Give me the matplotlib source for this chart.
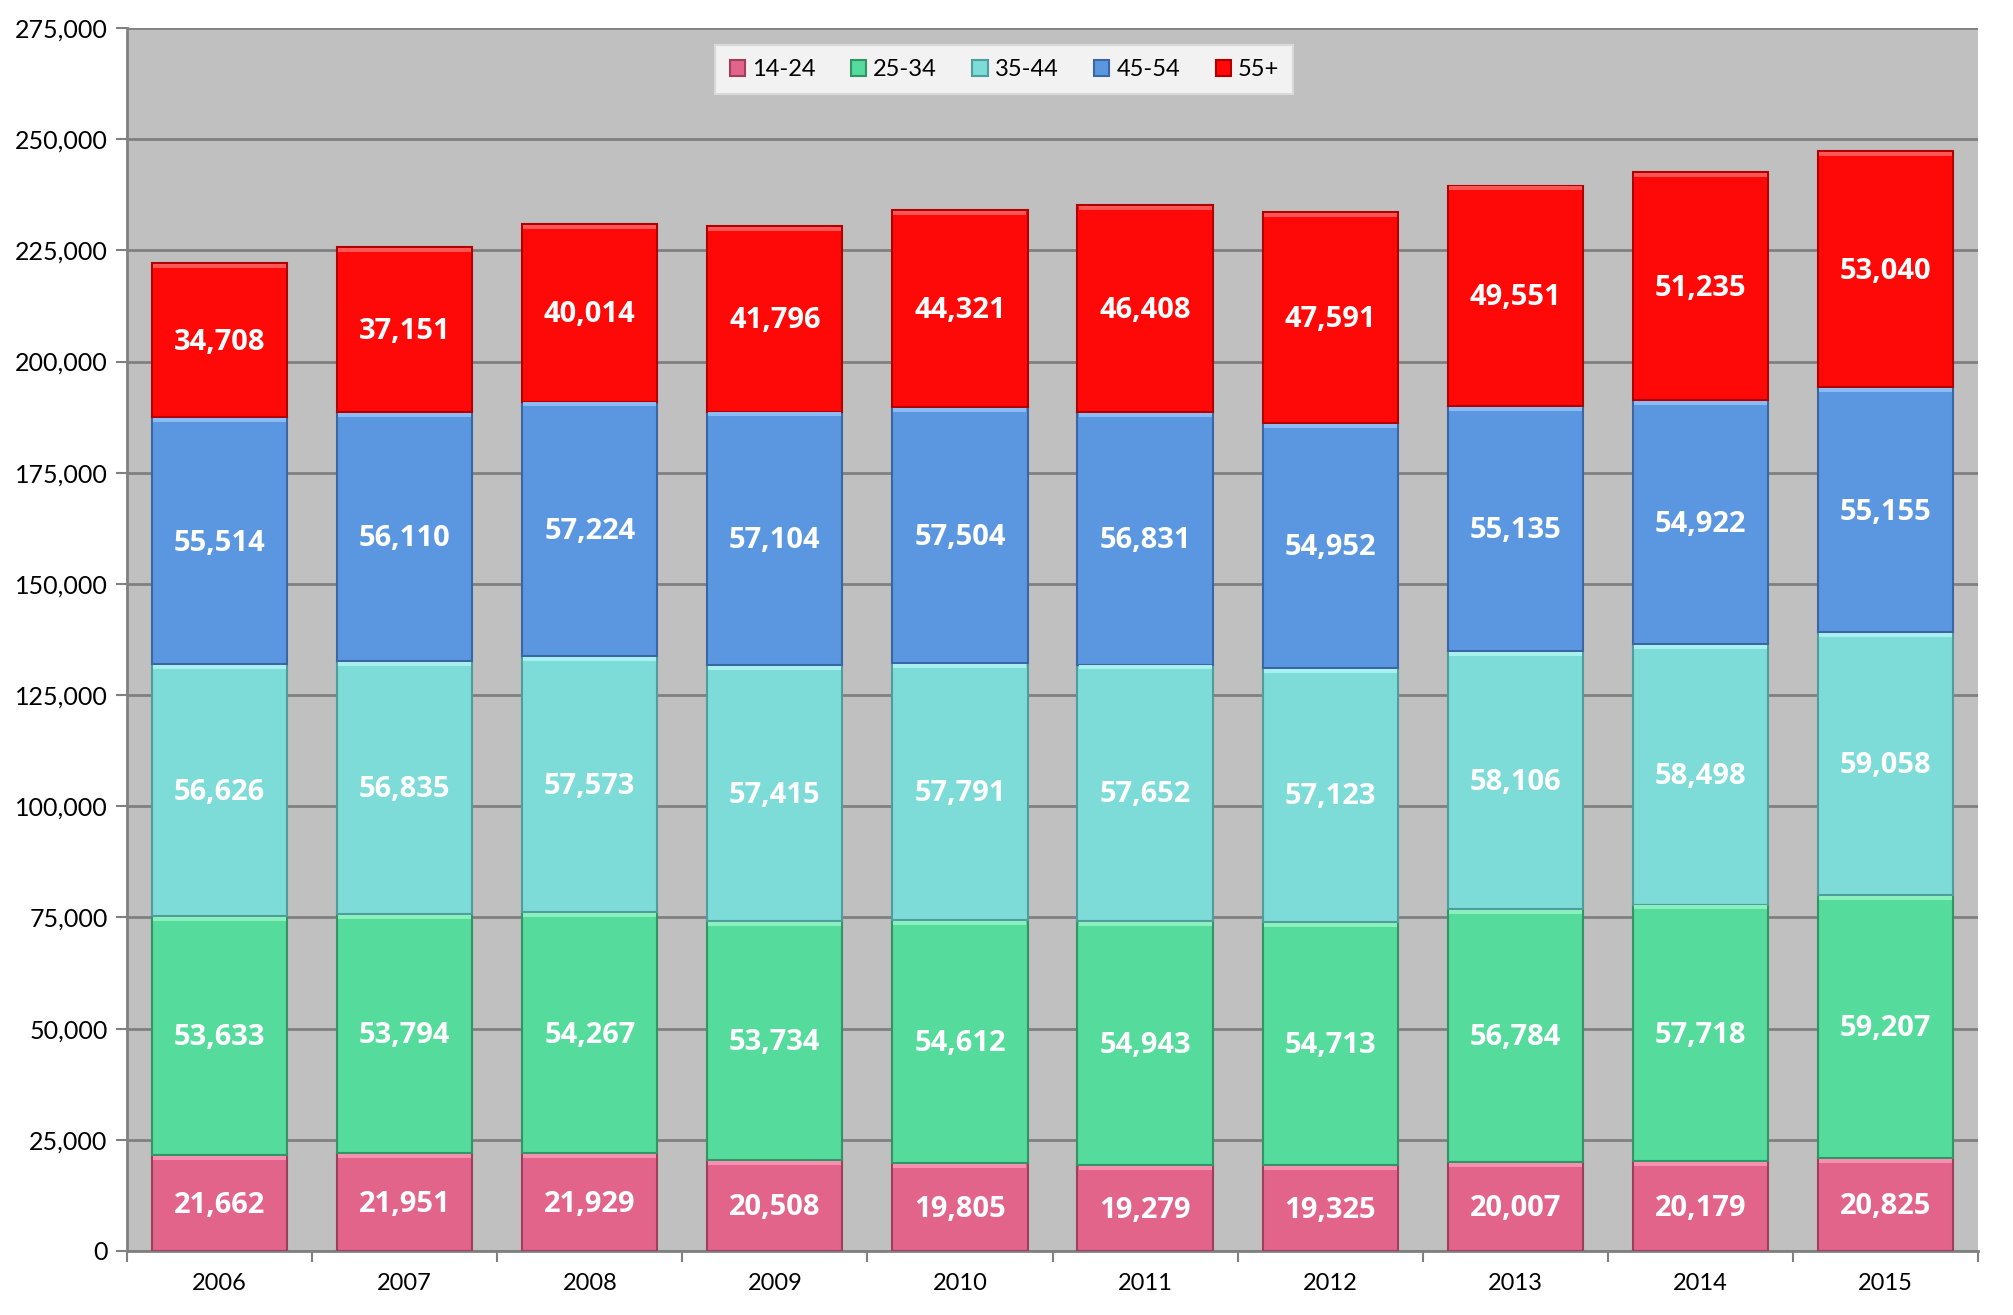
import numpy as np
import matplotlib.pyplot as plt
from matplotlib.ticker import FuncFormatter, MultipleLocator

years = ['2006', '2007', '2008', '2009', '2010', '2011', '2012', '2013', '2014', '2015']
groups = ['14-24', '25-34', '35-44', '45-54', '55+']

v14_24 = [21662, 21951, 21929, 20508, 19805, 19279, 19325, 20007, 20179, 20825]
v25_34 = [53633, 53794, 54267, 53734, 54612, 54943, 54713, 56784, 57718, 59207]
v35_44 = [56626, 56835, 57573, 57415, 57791, 57652, 57123, 58106, 58498, 59058]
v45_54 = [55514, 56110, 57224, 57104, 57504, 56831, 54952, 55135, 54922, 55155]
v55 = [34708, 37151, 40014, 41796, 44321, 46408, 47591, 49551, 51235, 53040]

colors = ['#E3648A', '#55DB9B', '#7DDBD8', '#5B97E0', '#FF0808']
edges = ['#9E3F5C', '#339466', '#4F9E9B', '#3A67A3', '#B00000']
tops = ['#F590B0', '#8AF0BE', '#A8F0EE', '#8DBAF0', '#FF5555']

plt.rcParams['font.family'] = ['Lato', 'DejaVu Sans']

fig = plt.figure(figsize=(20.13, 13.15), dpi=100)
ax = fig.add_axes([127 / 2013, 1 - 1251 / 1315, 1851 / 2013, 1223 / 1315])
ax.set_facecolor('#C0C0C0')

x = np.arange(len(years))
width = 0.73
bottom = np.zeros(len(years))
series = [v14_24, v25_34, v35_44, v45_54, v55]

for vals, col, ec, tc, name in zip(series, colors, edges, tops, groups):
    vals = np.array(vals, dtype=float)
    ax.bar(x, vals, width, bottom=bottom, color=col, edgecolor=ec,
           linewidth=1.5, label=name, zorder=3)
    # light bevel strip on top of each segment
    ax.bar(x, 900, width * 0.985, bottom=bottom + vals - 1100, color=tc,
           linewidth=0, zorder=4)
    for xi, b, v in zip(x, bottom, vals):
        ax.text(xi, b + v / 2 - 500, f'{int(v):,}', ha='center', va='center',
                color='white', fontsize=21, fontweight='bold',
                family=['Open Sans', 'DejaVu Sans'], zorder=5)
    bottom += vals

ax.set_xlim(-0.5, len(years) - 0.5)
ax.set_ylim(0, 275000)
ax.yaxis.set_major_locator(MultipleLocator(25000))
ax.yaxis.set_major_formatter(FuncFormatter(lambda v, p: f'{int(v):,}'))
ax.grid(axis='y', color='#808080', linewidth=2, zorder=0)
ax.set_axisbelow(True)

ax.set_xticks(x)
ax.set_xticklabels(years, fontsize=17)
ax.set_xticks(np.arange(-0.5, len(years)), minor=True)
ax.tick_params(axis='x', which='major', length=0, pad=16)
ax.tick_params(axis='x', which='minor', length=8, width=1.5, color='#808080')
ax.tick_params(axis='y', labelsize=18, length=8, width=1.5, color='#808080', pad=6)

for s in ['top', 'right']:
    ax.spines[s].set_visible(False)
for s in ['left', 'bottom']:
    ax.spines[s].set_color('#808080')
    ax.spines[s].set_linewidth(2)

handles, labels = ax.get_legend_handles_labels()
leg = ax.legend(handles[:5], labels[:5], loc='center', bbox_to_anchor=(0.474, 0.966),
                ncol=5, fontsize=17, frameon=True, fancybox=False,
                handlelength=0.65, handleheight=0.65, handletextpad=0.3,
                columnspacing=1.5, borderpad=0.6)
leg.get_frame().set_facecolor('#F2F2F2')
leg.get_frame().set_edgecolor('#D9D9D9')
leg.get_frame().set_linewidth(1.5)
leg.get_frame().set_alpha(1)

fig.savefig('out.png', dpi=100)
